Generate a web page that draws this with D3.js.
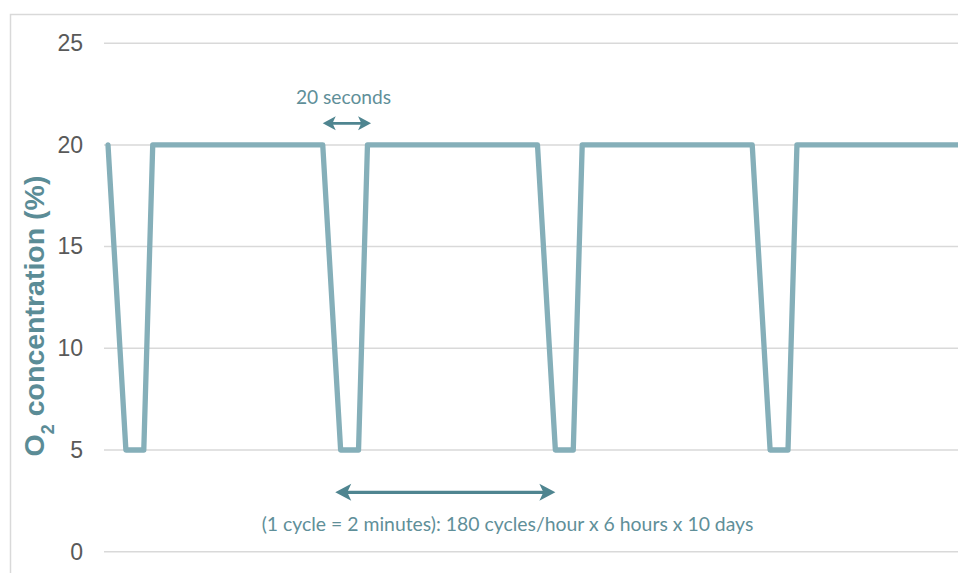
<!DOCTYPE html>
<html>
<head>
<meta charset="utf-8">
<script src="https://cdn.jsdelivr.net/npm/d3@7/dist/d3.min.js"></script>
<style>
  html, body { margin: 0; padding: 0; background: #fff; }
  svg { display: block; }
</style>
</head>
<body>
<div id="chart"></div>
<script>
// ---- data ----
const timeSeconds = [0, 10, 20, 25, 120, 130, 140, 145, 240, 250, 260, 265, 360, 370, 380, 385, 480];
const o2Values    = [20, 5, 5, 20, 20, 5, 5, 20, 20, 5, 5, 20, 20, 5, 5, 20, 20];
const yTicks = [0, 5, 10, 15, 20, 25];
const yTitleMain = "O";
const yTitleSub = "2";
const yTitleRest = " concentration (%)";
const shortArrowTimes = [120, 147];
const shortArrowLevel = [21.06];
const shortLabel = "20 seconds";
const longArrowTimes = [127, 250];
const longArrowLevel = [2.92];
const longLabel = "(1 cycle = 2 minutes): 180 cycles/hour x 6 hours x 10 days";

// ---- layout ----
const W = 958, H = 573;
const svg = d3.select("#chart").append("svg").attr("width", W).attr("height", H);

const x = d3.scaleLinear().domain([0, 475]).range([108, 958]);
const y = d3.scaleLinear().domain([0, 25]).range([551.7, 43.2]);

// outer chart border
svg.append("rect").attr("x", 10.5).attr("y", 14.5).attr("width", 1000).attr("height", 1000)
  .attr("fill", "none").attr("stroke", "#D9D9D9").attr("stroke-width", 1.5);

// gridlines
svg.append("g").selectAll("line").data(yTicks).join("line")
  .attr("x1", 104).attr("x2", 958)
  .attr("y1", d => y(d)).attr("y2", d => y(d))
  .attr("stroke", "#D9D9D9").attr("stroke-width", 1.5);

// y axis labels
const yAxis = d3.axisLeft(y).tickValues(yTicks).tickSize(0).tickPadding(0);
const gy = svg.append("g").attr("transform", "translate(83,0)").call(yAxis);
gy.select(".domain").remove();
gy.selectAll("text")
  .attr("font-family", "'Liberation Sans', Arial, sans-serif")
  .attr("font-size", 23).attr("fill", "#595959");

// y title
const yt = svg.append("text")
  .attr("transform", "translate(44,316) rotate(-90)")
  .attr("text-anchor", "middle")
  .attr("font-family", "'Liberation Sans', Arial, sans-serif")
  .attr("font-weight", "bold").attr("font-size", 28.5)
  .attr("fill", "#5B8C96");
yt.append("tspan").text(yTitleMain);
yt.append("tspan").text(yTitleSub).attr("font-size", 18).attr("dy", 10);
yt.append("tspan").text(yTitleRest).attr("dy", -10);

// line
const line = d3.line().x((d, i) => x(timeSeconds[i])).y(d => y(d));
svg.append("defs").append("clipPath").attr("id", "clip")
  .append("rect").attr("x", 0).attr("y", 0).attr("width", 958).attr("height", H);
svg.append("path").datum(o2Values)
  .attr("clip-path", "url(#clip)")
  .attr("d", line)
  .attr("fill", "none").attr("stroke", "#85AFB9").attr("stroke-width", 5.3)
  .attr("stroke-linejoin", "round").attr("stroke-linecap", "round");

// double-headed arrows
function dblArrow(x1, x2, yy, sw, hl, hw, color) {
  const g = svg.append("g");
  g.append("line").attr("x1", x1 + hl * 0.6).attr("x2", x2 - hl * 0.6).attr("y1", yy).attr("y2", yy)
    .attr("stroke", color).attr("stroke-width", sw);
  g.append("path").attr("d", `M${x1},${yy} L${x1 + hl},${yy - hw} L${x1 + hl * 0.75},${yy} L${x1 + hl},${yy + hw} Z`).attr("fill", color);
  g.append("path").attr("d", `M${x2},${yy} L${x2 - hl},${yy - hw} L${x2 - hl * 0.75},${yy} L${x2 - hl},${yy + hw} Z`).attr("fill", color);
}
const arrowColor = "#4F8590";
dblArrow(x(shortArrowTimes[0]), x(shortArrowTimes[1]), y(shortArrowLevel[0]), 2.8, 13, 7, arrowColor);
dblArrow(x(longArrowTimes[0]), x(longArrowTimes[1]), y(longArrowLevel[0]), 3.2, 16, 8.5, arrowColor);

// annotation text
svg.append("text").text(shortLabel)
  .attr("x", 343.5).attr("y", 103.5)
  .attr("text-anchor", "middle")
  .attr("font-family", "Lato, 'Open Sans', sans-serif").attr("font-size", 19.2)
  .attr("fill", "#5F8F99");
svg.append("text").text(longLabel)
  .attr("x", 507.5).attr("y", 530.5)
  .attr("text-anchor", "middle")
  .attr("font-family", "Lato, 'Open Sans', sans-serif").attr("font-size", 19.4)
  .attr("fill", "#5F8F99");
</script>
</body>
</html>
